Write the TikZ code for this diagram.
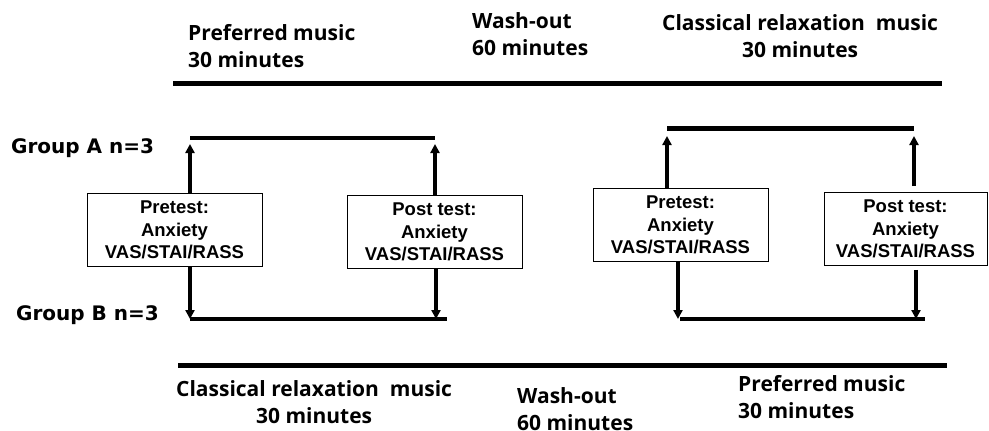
\documentclass[tikz,border=0pt]{standalone}
\usepackage{fontspec}
\setmainfont{Liberation Sans}
\newfontfamily\hdrfont{Open Sans}
\newfontfamily\grpfont{DejaVu Sans}
\usetikzlibrary{arrows.meta, positioning}

\begin{document}
\begin{tikzpicture}[x=1pt, y=-1pt,
    testbox/.style={draw, line width=0.8pt, fill=white, align=center, inner sep=0pt,
                    font=\fontsize{18.5}{22.5}\selectfont\bfseries,
                    minimum width=175pt, minimum height=73pt},
    phase/.style={font=\hdrfont\bfseries\fontsize{21}{27}\selectfont, inner sep=0pt,
                  anchor=north west, align=left},
    grouplbl/.style={font=\grpfont\bfseries\fontsize{20}{22}\selectfont, inner sep=0pt, anchor=base west},
    bar/.style={line width=4pt},
    flow/.style={line width=3.2pt, -{Triangle[width=9pt,length=9pt]}}
]
    \useasboundingbox (0,0) rectangle (989,431);

    % phases, top row (group A)
    \node[phase] (phA1) at (188,24) {Preferred music\\30 minutes};
    \node[phase] (phA2) at (472,12) {Wash-out\\60 minutes};
    \node[phase, align=center] (phA3) at (662,14) {Classical relaxation\ \ music\\30 minutes};
    \draw[line width=5pt] (173,83) -- (942,83);

    % phases, bottom row (group B)
    \draw[line width=5pt] (178,365) -- (947,365);
    \node[phase, align=center] (phB1) at (176,380) {Classical relaxation\ \ music\\30 minutes};
    \node[phase] (phB2) at (517,387) {Wash-out\\60 minutes};
    \node[phase] (phB3) at (738,375) {Preferred music\\30 minutes};

    % groups
    \node[grouplbl] (grpA) at (11,153) {Group A n=3};
    \node[grouplbl] (grpB) at (16,320) {Group B n=3};

    % tests
    \node[testbox] (pre1) at (174.5,230) {Pretest:\\Anxiety\\VAS/STAI/RASS};
    \node[testbox] (post1) at (434.5,232) {Post test:\\Anxiety\\VAS/STAI/RASS};
    \node[testbox] (pre2) at (680.5,225) {Pretest:\\Anxiety\\VAS/STAI/RASS};
    \node[testbox, minimum width=163pt] (post2) at (905.5,229) {Post test:\\Anxiety\\VAS/STAI/RASS};

    % bar ends
    \coordinate (tA1) at (190,138);
    \coordinate (tA2) at (435,138);
    \coordinate (bB1) at (190,319);
    \coordinate (bB2) at (447,319);
    \coordinate (tA3) at (667,128);
    \coordinate (tA4) at (914,128);
    \coordinate (bB3) at (678,319);
    \coordinate (bB4) at (925,319);

    \draw[bar] (tA1) -- (tA2);
    \draw[bar] (bB1) -- (bB2);
    \draw[line width=5pt] (tA3) -- (tA4);
    \draw[bar] ([xshift=2pt]bB3) -- (bB4);

    % arrows
    \draw[flow, shorten >=6pt] (pre1.north -| tA1) -- (tA1);
    \draw[flow, shorten >=6pt] (post1.north -| tA2) -- (tA2);
    \draw[flow, shorten >=8pt] (pre2.north -| tA3) -- (tA3);
    \draw[flow, shorten >=8pt] ([yshift=6pt]post2.north -| tA4) -- (tA4);
    \draw[flow] (pre1.south -| bB1) -- (bB1);
    \draw[flow] (post1.south -| 436,0) -- (436,319);
    \draw[flow] (pre2.south -| bB3) -- (bB3);
    \draw[flow] ([yshift=-4pt]post2.south -| 916,0) -- (916,319);
\end{tikzpicture}
\end{document}
